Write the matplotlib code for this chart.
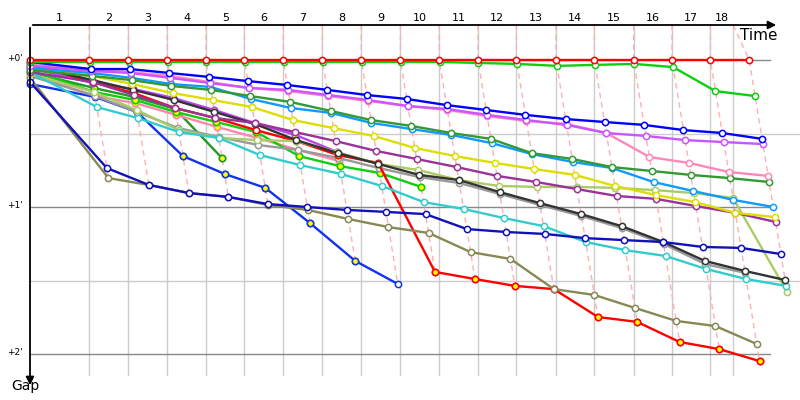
import numpy as np
import matplotlib
matplotlib.use('Agg')
from matplotlib import pyplot as plt

# leader lap times (s) and the race time limit (s)
leader_laps = [148, 98, 97, 97, 96, 97, 98, 97, 98, 97, 97, 96, 99, 96, 98, 96, 96, 97]
time_limit = 1758
lap_labels = [str(i) for i in range(1, 19)]
gap_ticks = [0, 60, 120]
gap_labels = ["+0'", "+1'", "+2'"]
half_ticks = [30, 90]

# gap to leader (s): at the start, then after each completed lap
gaps = {
    'red':     [0.0] * 19,
    'green':   [0.8] + [0.8] * 10 + [1.2, 1.6, 2.4, 2.0, 1.6, 2.9, 12.7, 14.7],
    'blue':    [0.8, 3.7, 3.7, 5.3, 6.9, 8.6, 10.2, 12.2, 14.3, 15.9, 18.4, 20.4, 22.4, 24.1, 25.3, 26.5, 28.6, 29.8, 32.2],
    'violet':  [2.4, 4.5, 5.3, 7.3, 9.4, 11.4, 12.2, 14.3, 16.3, 18.8, 20.0, 22.4, 24.5, 26.5, 29.8, 31.0, 32.7, 33.5, 34.3],
    'pink':    [2.0, 3.7, 4.9, 6.5, 9.0, 11.4, 12.7, 14.7, 16.7, 18.8, 20.4, 22.9, 24.9, 26.1, 29.8, 39.6, 42.0, 45.7, 47.3],
    'dgreen':  [4.1, 6.5, 8.2, 10.6, 12.2, 14.7, 17.1, 20.8, 24.5, 26.9, 29.8, 32.2, 38.0, 40.4, 43.7, 45.3, 46.9, 48.2, 49.8],
    'lblue':   [3.3, 5.3, 7.3, 9.8, 11.0, 15.9, 19.6, 21.6, 25.7, 28.2, 30.6, 33.9, 38.4, 41.6, 44.1, 49.8, 53.5, 57.1, 60.0],
    'yellow':  [3.3, 6.5, 9.8, 13.5, 16.3, 19.2, 24.5, 27.8, 31.0, 35.9, 39.2, 42.0, 44.5, 46.9, 51.4, 55.1, 58.0, 62.4, 64.1],
    'purple':  [4.9, 9.0, 14.3, 19.6, 23.7, 25.7, 29.4, 33.1, 37.1, 40.4, 43.7, 47.3, 49.8, 52.7, 55.5, 56.7, 59.6, 62.4, 66.1],
    'navy':    [9.0, 44.1, 51.0, 54.3, 55.9, 58.8, 60.0, 61.2, 62.0, 62.9, 69.0, 70.2, 71.0, 72.7, 73.5, 74.3, 76.3, 76.7, 79.2],
    'black':   [2.4, 8.2, 12.2, 16.3, 21.2, 26.1, 32.7, 38.0, 42.4, 46.9, 49.0, 53.9, 58.4, 62.9, 67.8, 74.3, 82.0, 86.1, 89.8],
    'cyan':    [4.9, 19.2, 23.7, 29.4, 31.8, 38.8, 42.9, 46.5, 51.4, 58.0, 60.8, 64.5, 67.8, 74.3, 77.6, 80.0, 85.3, 89.4, 92.2],
    'ygreen':  [5.7, 13.1, 20.4, 28.6, 31.8, 32.7, 33.1, 37.6, 42.4, 44.9, 49.0, 51.4, 51.8, 51.8, 52.2, 53.1, 54.3, 56.3, 94.7],
    'olive':   [7.3, 48.2, 51.0, 54.3, 55.9, 59.2, 61.2, 64.9, 68.2, 70.6, 78.4, 81.2, 93.5, 95.9, 101.2, 106.5, 108.6, 115.9],
    'red2':    [1.6, 9.0, 13.5, 19.6, 23.7, 28.6, 33.1, 38.8, 42.0, 86.5, 89.4, 92.2, 93.5, 104.9, 106.9, 115.1, 118.0, 122.9],
    'gray':    [6.5, 14.7, 21.2, 27.8, 31.4, 34.7, 36.7, 40.0, 44.1, 47.8, 50.2, 54.7, 59.2, 63.7, 68.6, 75.1, 83.3, 86.9],
    'green2':  [4.1, 13.1, 16.3, 21.2, 25.3, 29.4, 39.2, 43.3, 46.1, 51.8],
    'blue2':   [9.8, 15.1, 21.2, 39.2, 46.5, 52.2, 66.5, 82.0, 91.4],
    'violet2': [3.3, 9.4, 11.8, 15.5, 20.4, 25.7, 30.6, 37.6],
    'pink2':   [5.7, 14.7, 17.6, 22.4, 27.3, 31.8, 36.7, 41.2],
    'dgreen2': [4.9, 11.4, 15.1, 20.0, 40.0],
}

colors = {
    'red': '#ff0000', 'green': '#11cc11', 'blue': '#0000ff', 'violet': '#cc55ff',
    'pink': '#ff88bb', 'dgreen': '#339933', 'lblue': '#1199ff', 'yellow': '#dddd00',
    'purple': '#993399', 'navy': '#1111bb', 'black': '#333333', 'cyan': '#33cccc',
    'ygreen': '#aacc66', 'olive': '#888855', 'red2': '#ff0000', 'gray': '#999999',
    'green2': '#11cc11', 'blue2': '#1133ee', 'violet2': '#bb44ee', 'pink2': '#ff88aa',
    'dgreen2': '#229922',
}

# laps (first, last) drawn with yellow markers
yellow_laps = {'green2': (1, 9), 'blue2': (2, 7), 'violet2': (1, 7), 'pink2': (1, 7),
               'dgreen2': (1, 4), 'red2': (7, 17)}

cum = np.cumsum(leader_laps)
line_x = list(cum[:17]) + [time_limit]

# pixel helpers for the frame (30 px = start, 24 px/min across, 147 px/min down)
def tx(px):
    return (px - 30) / 0.4

def gy(py):
    return (py - 60) / 2.45

fig = plt.figure(figsize=(8, 4), dpi=100)
ax = fig.add_axes([0, 0, 1, 1])
ax.set_xlim(tx(0), tx(800))
ax.set_ylim(gy(400), gy(0))
ax.axis('off')

top = gy(25)
# grid
for x in line_x:
    ax.plot([x, x], [top, gy(375)], color='#cccccc', lw=1, zorder=1)
for g in half_ticks:
    ax.plot([0, tx(800)], [g, g], color='#cccccc', lw=1, zorder=1)
for g, lab in zip(gap_ticks, gap_labels):
    ax.plot([0, tx(770)], [g, g], color='#888888', lw=1, zorder=1)
    ax.text(tx(23), g - 0.8, lab, ha='right', va='center', fontsize=6.5)

# lap labels
edges = [0] + line_x
for i, lab in enumerate(lap_labels):
    ax.text((edges[i] + edges[i + 1]) / 2, gy(18), lab, ha='center', va='center', fontsize=8)

# positions of each marker
pos = {}
for name, g in gaps.items():
    x = [0.0] + [cum[k - 1] + g[k] for k in range(1, len(g))]
    pos[name] = (np.array(x), np.array(g))

# dashed lap lines
for k in range(1, 19):
    pts = sorted((pos[n][1][k], pos[n][0][k]) for n in gaps if len(gaps[n]) > k)
    xs = [line_x[k - 1]] + [p[1] for p in pts]
    ys = [top] + [p[0] for p in pts]
    ax.plot(xs, ys, color='#ffb0b0', lw=1, ls=(0, (4, 3)), zorder=2)

# drivers, bottom ones first
names = list(gaps.keys())
for z, name in enumerate(reversed(names)):
    x, g = pos[name]
    c = colors[name]
    ax.plot(x, g, color=c, lw=1.7, marker='o', ms=4.5, mfc='white', mec=c, mew=1.1,
            zorder=3 + z * 0.01)
    if name in yellow_laps:
        a, b = yellow_laps[name]
        ax.plot(x[a:b + 1], g[a:b + 1], ls='none', marker='o', ms=4.5, mfc='#ffff00',
                mec=c, mew=1.1, zorder=3 + z * 0.01 + 0.005)

# axes arrows
ax.annotate('', xy=(tx(779), top), xytext=(0, top),
            arrowprops=dict(arrowstyle='-|>', color='black', lw=1.3, mutation_scale=12),
            zorder=10)
ax.annotate('', xy=(0, gy(388)), xytext=(0, top),
            arrowprops=dict(arrowstyle='-|>', color='black', lw=1.3, mutation_scale=12),
            zorder=10)
ax.text(tx(777), gy(36), 'Time', ha='right', va='center', fontsize=11)
ax.text(tx(11), gy(386), 'Gap', ha='left', va='center', fontsize=10)

fig.savefig('out.png', dpi=100)
